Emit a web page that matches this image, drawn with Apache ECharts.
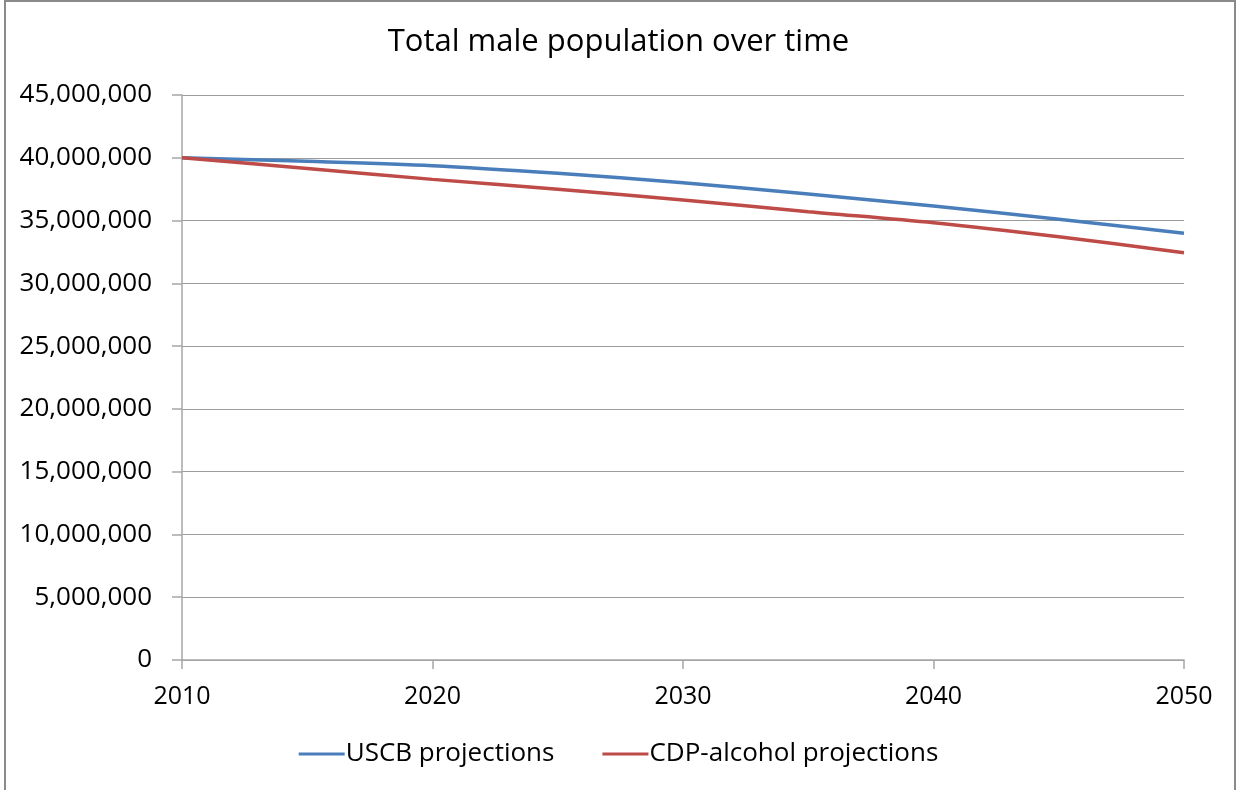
<!DOCTYPE html>
<html>
<head>
<meta charset="utf-8">
<script src="https://cdn.jsdelivr.net/npm/echarts@6/dist/echarts.min.js"></script>
<style>
html,body{margin:0;padding:0;background:#fff;}
#chart{width:1237px;height:790px;}
</style>
</head>
<body>
<div id="chart"></div>
<script>
const years = [2010, 2015, 2020, 2025, 2030, 2035, 2040, 2045, 2050];
const uscb = [40000000, 39720000, 39370000, 38760000, 38020000, 37110000, 36160000, 35100000, 33980000];
const cdpAlcohol = [40000000, 39150000, 38280000, 37490000, 36640000, 35710000, 34830000, 33710000, 32440000];
const seriesNames = ['USCB projections', 'CDP-alcohol projections'];
const titleText = 'Total male population over time';

const font = 'Open Sans';
const chart = echarts.init(document.getElementById('chart'));
const fmt = v => v.toLocaleString('en-US');
chart.setOption({
  animation: false,
  backgroundColor: '#fff',
  title: {
    text: titleText, left: 'center', top: 22,
    textStyle: { fontFamily: font, fontSize: 31, fontWeight: 'normal', color: '#000' }
  },
  graphic: [{
    type: 'rect', shape: { x: 5, y: 1, width: 1230, height: 820 },
    style: { fill: 'none', stroke: '#8a8a8a', lineWidth: 2 }, silent: true
  }],
  legend: {
    bottom: 18, left: 'center', icon: 'rect', itemWidth: 46, itemHeight: 3, itemGap: 48,
    textStyle: { fontFamily: font, fontSize: 26, color: '#000', padding: [0, 0, 0, -4] },
    data: seriesNames
  },
  grid: { left: 182, right: 53, top: 95, bottom: 130, containLabel: false },
  xAxis: {
    type: 'value', min: 2010, max: 2050, interval: 10,
    axisLine: { lineStyle: { color: '#a6a6a6', width: 1.5 } },
    axisTick: { show: true, length: 9, lineStyle: { color: '#a6a6a6', width: 1.5 } },
    axisLabel: { fontFamily: font, fontSize: 25, color: '#000', margin: 24, formatter: v => String(v) },
    splitLine: { show: false }
  },
  yAxis: {
    type: 'value', min: 0, max: 45000000, interval: 5000000,
    axisLine: { show: true, lineStyle: { color: '#a6a6a6', width: 1.5 } },
    axisTick: { show: true, length: 10, lineStyle: { color: '#a6a6a6', width: 1.5 } },
    axisLabel: { fontFamily: font, fontSize: 26, color: '#000', margin: 30, formatter: fmt },
    splitLine: { show: true, lineStyle: { color: '#9c9c9c', width: 1.2 } }
  },
  series: [
    {
      name: seriesNames[0], type: 'line', smooth: 0.3, showSymbol: false,
      data: years.map((y, i) => [y, uscb[i]]),
      lineStyle: { color: '#4a7ebb', width: 3.5 }, itemStyle: { color: '#4a7ebb' }
    },
    {
      name: seriesNames[1], type: 'line', smooth: 0.3, showSymbol: false,
      data: years.map((y, i) => [y, cdpAlcohol[i]]),
      lineStyle: { color: '#be4b48', width: 3.5 }, itemStyle: { color: '#be4b48' }
    }
  ]
});
</script>
</body>
</html>
